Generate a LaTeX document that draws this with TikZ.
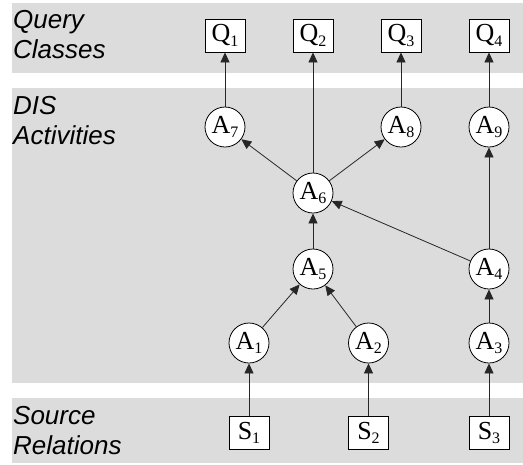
\documentclass[tikz,border=0pt]{standalone}
\usepackage{fontspec}
\setmainfont{Liberation Serif}
\setsansfont{Liberation Sans}
\usetikzlibrary{arrows.meta}
\definecolor{bandgray}{RGB}{220,220,220}
\newcommand{\lbl}[2]{#1\raisebox{-0.4ex}{\fontsize{16}{16}\selectfont #2}}
\tikzset{
  band/.style={fill=bandgray, draw=none},
  rowlabel/.style={anchor=base west, inner sep=0pt, font=\sffamily\itshape\fontsize{26}{26}\selectfont},
  act/.style={circle, draw=black, fill=white, line width=0.8pt, minimum size=40pt, inner sep=0pt, font=\fontsize{26}{26}\selectfont},
  rel/.style={rectangle, draw=black, fill=white, line width=0.8pt, minimum width=40pt, minimum height=33pt, inner sep=0pt, font=\fontsize{26}{26}\selectfont},
  flow/.style={draw=black!85, line width=0.8pt, -{Triangle[length=10pt,width=9pt]}}
}
\begin{document}
\begin{tikzpicture}[x=1pt,y=-1pt]
\useasboundingbox (0,0) rectangle (523,464);
% bands
\path[band] (12,3) rectangle (523,73);
\path[band] (12,88) rectangle (523,383);
\path[band] (12,398) rectangle (523,463);
% row labels
\node[rowlabel] (lq1) at (13,28) {Query};
\node[rowlabel] (lq2) at (13,58) {Classes};
\node[rowlabel] (ld1) at (13,114) {DIS};
\node[rowlabel] (ld2) at (13,144) {Activities};
\node[rowlabel] (ls1) at (13,424) {Source};
\node[rowlabel] (ls2) at (13,454) {Relations};
% query classes
\node[rel] (Q1) at (225,35.5) {\lbl{Q}{1}};
\node[rel] (Q2) at (313,35.5) {\lbl{Q}{2}};
\node[rel] (Q3) at (401,35.5) {\lbl{Q}{3}};
\node[rel] (Q4) at (489,35.5) {\lbl{Q}{4}};
% activities
\node[act] (A7) at (225,127) {\lbl{A}{7}};
\node[act] (A8) at (401,127) {\lbl{A}{8}};
\node[act] (A9) at (489,127) {\lbl{A}{9}};
\node[act] (A6) at (313,193) {\lbl{A}{6}};
\node[act] (A5) at (313,269) {\lbl{A}{5}};
\node[act] (A4) at (489,269) {\lbl{A}{4}};
\node[act] (A1) at (249,343) {\lbl{A}{1}};
\node[act] (A2) at (368.5,343) {\lbl{A}{2}};
\node[act] (A3) at (489,343) {\lbl{A}{3}};
% sources
\node[rel] (S1) at (249,433) {\lbl{S}{1}};
\node[rel] (S2) at (368.5,433) {\lbl{S}{2}};
\node[rel] (S3) at (489,433) {\lbl{S}{3}};
% connectors
\draw[flow] (S1) -- (A1);
\draw[flow] (S2) -- (A2);
\draw[flow] (S3) -- (A3);
\draw[flow] (A1) -- (A5);
\draw[flow] (A2) -- (A5);
\draw[flow] (A3) -- (A4);
\draw[flow] (A5) -- (A6);
\draw[flow] (A4) -- (A6);
\draw[flow] (A4) -- (A9);
\draw[flow] (A6) -- (A7);
\draw[flow] (A6) -- (Q2);
\draw[flow] (A6) -- (A8);
\draw[flow] (A7) -- (Q1);
\draw[flow] (A8) -- (Q3);
\draw[flow] (A9) -- (Q4);
\end{tikzpicture}
\end{document}
